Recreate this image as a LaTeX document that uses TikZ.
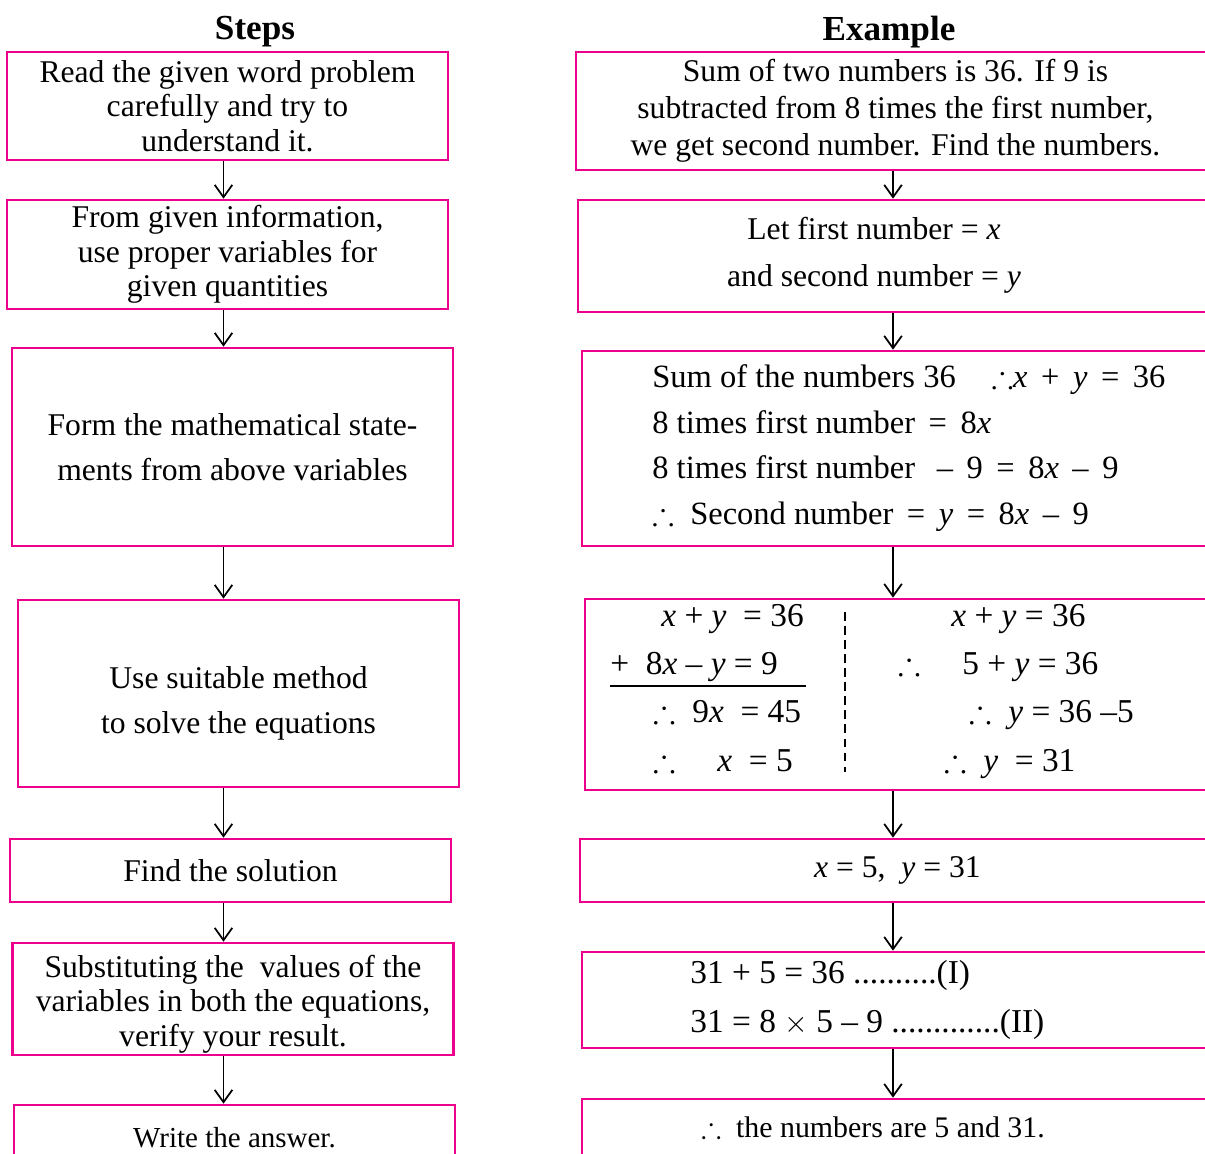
\documentclass[tikz,border=0pt]{standalone}
\usepackage{amsmath}
\usepackage{amssymb}
\usepackage{fontspec}
\setmainfont{Liberation Serif}
\usepackage{tikz}
\usetikzlibrary{positioning, arrows.meta}
\definecolor{boxPink}{HTML}{EC008C}
\newcommand{\mv}[1]{\textit{#1}}

\begin{document}
\begin{tikzpicture}[
          stepbox/.style={draw=boxPink, line width=1.5pt, minimum width=8.82cm, align=center, inner sep=0pt, font=\fontsize{18}{19.5}\selectfont},
          exbox/.style={draw=boxPink, line width=1.5pt, align=center, inner sep=0pt, font=\fontsize{18}{21}\selectfont},
          extext/.style={align=left, inner sep=0pt, font=\fontsize{18.5}{21}\selectfont},
          eqline/.style={anchor=base west, inner sep=0pt, font=\fontsize{19}{21}\selectfont},
          flow/.style={-{Straight Barb[length=7pt,width=10pt]}, line width=1pt},
        ]
        \clip (0,0) rectangle (24.1,-23.06);
        \coordinate (colL) at (4.47,0);
        \coordinate (colR) at (17.86,0);
        \node[font=\fontsize{20}{22}\selectfont\bfseries] (stepsT) at (5.10,-0.64) {Steps};
        \node[font=\fontsize{20}{22}\selectfont\bfseries] (exT) at (17.78,-0.64) {Example};

        \node[stepbox, minimum height=2.16cm] (L1) at (4.55,-2.12) {Read the given word problem\\carefully and try to\\understand it.};
        \node[stepbox, minimum height=2.18cm] (L2) at (4.55,-5.09) {From given information,\\use proper variables for\\given quantities};
        \node[stepbox, minimum height=3.96cm] (L3) at (4.65,-8.94) {Form the mathematical state-\\[6pt]ments from above variables};
        \node[stepbox, minimum height=3.74cm] (L4) at (4.77,-13.87) {};
        \node[align=center, inner sep=0pt, font=\fontsize{18}{19.5}\selectfont] (L4txt) at (4.77,-14.06) {Use suitable method\\[6pt]to solve the equations};
        \node[stepbox, minimum height=1.26cm] (L5) at (4.61,-17.41) {Find the solution};
        \node[stepbox, minimum height=2.24cm] (L6) at (4.66,-19.98) {};
        \node[align=center, inner sep=0pt, font=\fontsize{18}{19.5}\selectfont] (L6txt) at (4.66,-20.08) {Substituting the\ \ values of the\\variables in both the equations,\\verify your result.};
        \node[stepbox, minimum height=1.30cm, font=\fontsize{16.5}{19}\selectfont] (L7) at (4.69,-22.75) {Write the answer.};

        \node[exbox, minimum width=12.78cm, minimum height=2.36cm] (R1) at (17.91,-2.22) {Sum of two numbers is 36. If 9 is\\subtracted from 8 times the first number,\\we get second number. Find the numbers.};
        \node[exbox, minimum width=12.74cm, minimum height=2.24cm] (R2) at (17.93,-5.12) {};
        \node[exbox, minimum width=12.66cm, minimum height=3.90cm] (R3) at (17.97,-8.97) {};
        \node[exbox, minimum width=12.60cm, minimum height=3.82cm] (R4) at (18.00,-13.89) {};
        \node[exbox, minimum width=12.70cm, minimum height=1.26cm] (R5) at (17.95,-17.41) {\mv{x} = 5,\ \ \mv{y} = 31};
        \node[exbox, minimum width=12.66cm, minimum height=1.92cm] (R6) at (17.97,-20.00) {};
        \node[exbox, minimum width=12.66cm, minimum height=1.42cm] (R7) at (17.97,-22.69) {};

        \node[align=center, inner sep=0pt, font=\fontsize{18}{21}\selectfont] (R2txt) at (17.48,-5.10) {Let first number = \mv{x}\\[6pt]and second number = \mv{y}};
        \node[extext, anchor=west] (R3txt) at (13.04,-8.96) {Sum of the numbers 36\hspace{1.1em}$\therefore$\mv{x} \,+\, \mv{y} \,=\, 36\\[5pt]8 times first number \,=\, 8\mv{x}\\[5pt]8 times first number\ \ \,--\, 9 \,=\, 8\mv{x} \,--\, 9\\[5pt]$\therefore$\ \ Second number \,=\, \mv{y} \,=\, 8\mv{x} \,--\, 9};
        \node[extext, anchor=west, font=\fontsize{19}{21}\selectfont] (R6txt) at (13.80,-20.00) {31 + 5 = 36 ..........(I)\\[7pt]31 = 8 $\times$ 5 -- 9 .............(II)};
        \node[inner sep=0pt, font=\fontsize{17}{20}\selectfont] (R7txt) at (17.46,-22.54) {$\therefore$\ \ the numbers are 5 and 31.};

        \node[eqline] (eqA) at (13.22,-12.52) {\mv{x} + \mv{y}\ \ = 36};
        \node[eqline] (eqB) at (12.20,-13.48) {+\ \ 8\mv{x} -- \mv{y} = 9};
        \node[eqline] (eqC) at (13.06,-14.44) {$\therefore$\ \ 9\mv{x}\ \ = 45};
        \node[eqline] (eqD) at (13.06,-15.42) {$\therefore$\quad\ \mv{x}\ \ = 5};
        \node[eqline] (eqE) at (19.02,-12.52) {\mv{x} + \mv{y} = 36};
        \node[eqline] (eqF) at (17.96,-13.48) {$\therefore$\quad\ 5 + \mv{y} = 36};
        \node[eqline] (eqG) at (19.38,-14.44) {$\therefore$\ \ \mv{y} = 36 --5};
        \node[eqline] (eqH) at (18.88,-15.42) {$\therefore$\ \ \mv{y}\ \ = 31};
        \draw[line width=1.2pt] (12.20,-13.72) -- (16.12,-13.72);
        \draw[dash pattern=on 5pt off 3pt, line width=1pt] (16.90,-12.24) -- (16.90,-15.44);

        \draw[flow] (L1.south -| colL) -- (L2.north -| colL);
        \draw[flow] (L2.south -| colL) -- (L3.north -| colL);
        \draw[flow] (L3.south -| colL) -- (L4.north -| colL);
        \draw[flow] (L4.south -| colL) -- (L5.north -| colL);
        \draw[flow] (L5.south -| colL) -- (L6.north -| colL);
        \draw[flow] (L6.south -| colL) -- (L7.north -| colL);
        \draw[flow] (R1.south -| colR) -- (R2.north -| colR);
        \draw[flow] (R2.south -| colR) -- (R3.north -| colR);
        \draw[flow] (R3.south -| colR) -- (R4.north -| colR);
        \draw[flow] (R4.south -| colR) -- (R5.north -| colR);
        \draw[flow] (R5.south -| colR) -- (R6.north -| colR);
        \draw[flow] (R6.south -| colR) -- (R7.north -| colR);
      \end{tikzpicture}
\end{document}
